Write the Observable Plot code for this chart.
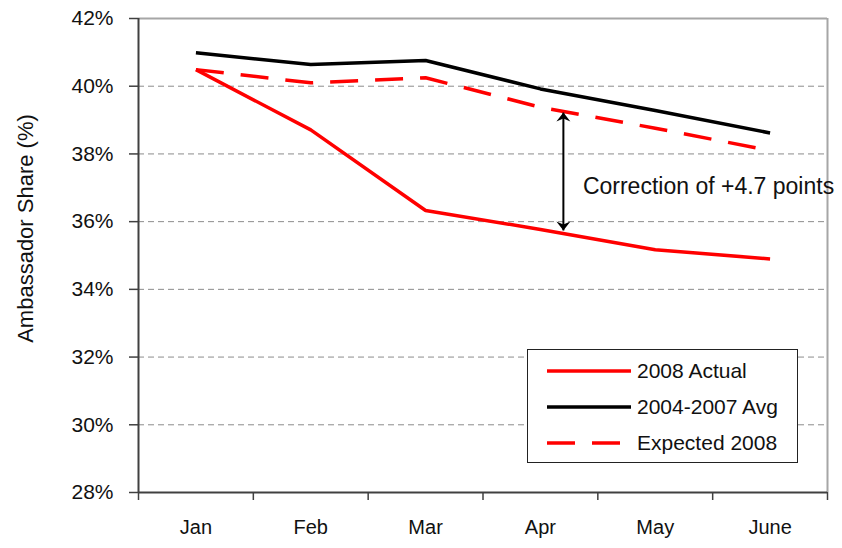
<!DOCTYPE html>
<html>
<head>
<meta charset="utf-8">
<script src="https://cdn.jsdelivr.net/npm/d3@7"></script>
<script src="https://cdn.jsdelivr.net/npm/@observablehq/plot@0.6"></script>
<style>
  body { margin: 0; background: #fff; }
  #wrap { position: relative; width: 842px; height: 548px; font-family: "Liberation Sans", Arial, sans-serif; color: #111; }
  #legend { position: absolute; left: 527px; top: 349px; width: 271px; height: 114px; border: 1.5px solid #222; background: #fff; box-sizing: border-box; }
  .row { position: absolute; left: 0; height: 30px; display: flex; align-items: center; font-size: 21px; white-space: nowrap; }
  .row svg { margin-left: 19px; margin-right: 6px; }
</style>
</head>
<body>
<div id="wrap"></div>
<script>
// ---- data ----
const months = ["Jan", "Feb", "Mar", "Apr", "May", "June"];
const actual2008 = [40.49, 38.71, 36.33, 35.77, 35.17, 34.90];
const avg2004to2007 = [40.99, 40.64, 40.76, 39.92, 39.28, 38.62];
const expected2008 = [40.49, 40.10, 40.25, 39.38, 38.76, 38.10];
const seriesNames = ["2008 Actual", "2004-2007 Avg", "Expected 2008"];
const seriesColors = ["#ff0000", "#000000", "#ff0000"];
const seriesDash = [null, null, "28,17"];
const yTicks = [28, 30, 32, 34, 36, 38, 40, 42];
const gridValues = [30, 32, 34, 36, 38, 40];
const yLabel = "Ambassador Share (%)";
// annotation (data space: month index, share %)
const correctionText = "Correction of +4.7 points";
const correctionX = [3.2];
const correctionFrom = [39.22];
const correctionTo = [35.74];
const correctionLabelX = [3.37];
const correctionLabelY = [37.04];

// ---- build ----
const idx = months.map((m, i) => i);
const bandEdges = [-0.5, 0.5, 1.5, 2.5, 3.5, 4.5, 5.5];
const toRows = (arr) => arr.map((v, i) => ({ i, v }));
const series = [actual2008, avg2004to2007, expected2008];

const stealthUp = { draw(ctx) { ctx.moveTo(0, 0); ctx.lineTo(-7, 9); ctx.lineTo(0, 6); ctx.lineTo(7, 9); ctx.closePath(); } };
const stealthDown = { draw(ctx) { ctx.moveTo(0, 0); ctx.lineTo(-7, -9); ctx.lineTo(0, -6); ctx.lineTo(7, -9); ctx.closePath(); } };

const arrowRows = correctionX.map((x, k) => ({ x, y1: correctionFrom[k], y2: correctionTo[k] }));
const labelRows = correctionLabelX.map((x, k) => ({ x, y: correctionLabelY[k], t: correctionText }));

const chart = Plot.plot({
  width: 842,
  height: 548,
  marginLeft: 138,
  marginRight: 15,
  marginTop: 18,
  marginBottom: 56,
  style: { fontFamily: "'Liberation Sans', Arial, sans-serif", background: "#fff", color: "#111", overflow: "visible" },
  x: { type: "linear", domain: [bandEdges[0], bandEdges[bandEdges.length - 1]] },
  y: { domain: [yTicks[0], yTicks[yTicks.length - 1]] },
  marks: [
    Plot.gridY(gridValues, { stroke: "#8c8c8c", strokeOpacity: 1, strokeDasharray: "6,4", strokeWidth: 1 }),
    Plot.ruleY([yTicks[yTicks.length - 1]], { stroke: "#a6a6a6", strokeWidth: 2 }),
    Plot.ruleX([bandEdges[bandEdges.length - 1]], { stroke: "#a6a6a6", strokeWidth: 2 }),
    Plot.ruleX([bandEdges[0]], { stroke: "#404040", strokeWidth: 2 }),
    Plot.ruleY([yTicks[0]], { stroke: "#404040", strokeWidth: 2 }),
    Plot.axisY({ ticks: yTicks, tickFormat: d => d + "%", tickSize: 9, tickPadding: 16, fontSize: 21, stroke: "#404040", strokeWidth: 1.5, label: null }),
    Plot.axisX({ ticks: bandEdges, tickSize: 8, tickFormat: () => "", stroke: "#404040", strokeWidth: 1.5, label: null }),
    Plot.axisX({ ticks: idx, tickSize: 0, tickPadding: 27, tickFormat: i => months[i], fontSize: 20, label: null }),
    Plot.text([yLabel], { frameAnchor: "left", textAnchor: "middle", rotate: -90, dx: -113, dy: -27, fontSize: 22, fill: "#111" }),
    ...series.map((s, k) => Plot.line(toRows(s), {
      x: "i", y: "v", stroke: seriesColors[k], strokeWidth: 3.5,
      strokeDasharray: seriesDash[k] || undefined, strokeLinejoin: "miter", strokeLinecap: "butt"
    })),
    Plot.link(arrowRows, { x1: "x", x2: "x", y1: "y1", y2: "y2", stroke: "#000", strokeWidth: 2 }),
    Plot.dot(arrowRows, { x: "x", y: "y1", symbol: stealthUp, fill: "#000", stroke: "none" }),
    Plot.dot(arrowRows, { x: "x", y: "y2", symbol: stealthDown, fill: "#000", stroke: "none" }),
    Plot.text(labelRows, { x: "x", y: "y", text: "t", textAnchor: "start", fontSize: 23, fill: "#111" })
  ]
});

const wrap = document.getElementById("wrap");
wrap.appendChild(chart);

// legend
const legend = document.createElement("div");
legend.id = "legend";
const rowCenters = [21, 57, 93];
seriesNames.forEach((name, k) => {
  const row = document.createElement("div");
  row.className = "row";
  row.style.top = (rowCenters[k] - 15) + "px";
  const dash = seriesDash[k] ? ` stroke-dasharray="${seriesDash[k]}"` : "";
  row.innerHTML = `<svg width="84" height="10"><line x1="0" y1="5" x2="84" y2="5" stroke="${seriesColors[k]}" stroke-width="3.5"${dash}/></svg><span>${name}</span>`;
  legend.appendChild(row);
});
wrap.appendChild(legend);
</script>
</body>
</html>
